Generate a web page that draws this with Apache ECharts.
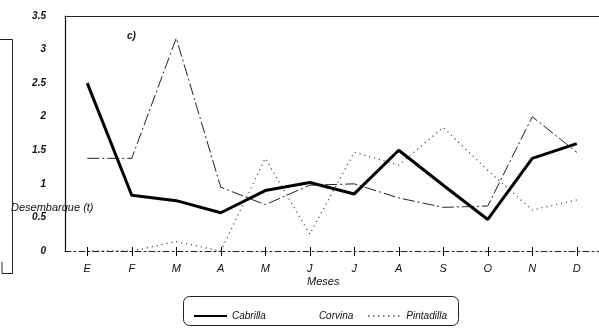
<!DOCTYPE html>
<html>
<head>
<meta charset="utf-8">
<script src="https://cdn.jsdelivr.net/npm/echarts@6/dist/echarts.min.js"></script>
<style>html,body{margin:0;padding:0;background:#fff}#c{width:599px;height:330px}</style>
</head>
<body>
<div id="c"></div>
<script>
var months = ['E','F','M','A','M','J','J','A','S','O','N','D'];
var cabrilla = [2.5, 0.83, 0.75, 0.57, 0.9, 1.02, 0.85, 1.5, 0.98, 0.47, 1.38, 1.6];
var corvina = [1.38, 1.38, 3.17, 0.95, 0.69, 0.98, 1.0, 0.79, 0.65, 0.67, 2.0, 1.47];
var pintadilla = [0, 0, 0.14, 0, 1.38, 0.25, 1.47, 1.28, 1.84, 1.2, 0.61, 0.76];
var yTicks = [0, 0.5, 1, 1.5, 2, 2.5, 3, 3.5];

var monthKeys = months.map(function (m, i) { return 'm' + i; });
function monthLabel(v, i) { return months[i]; }

var FONT = '"Liberation Sans", Arial, sans-serif';
var chart = echarts.init(document.getElementById('c'), null, {renderer:'canvas'});
chart.setOption({
  animation: false,
  backgroundColor: '#fff',
  grid: {left: 65, top: 16, width: 538, height: 235},
  xAxis: [{
    type: 'category', data: monthKeys, boundaryGap: true,
    axisLine: {show: true, onZero: false, lineStyle: {color: '#222', width: 1, type: [6, 3, 2, 3]}},
    axisTick: {show: true, interval: 0, alignWithLabel: true, length: 5, lineStyle: {color: '#000', width: 1}},
    axisLabel: {margin: 12, interval: 0, formatter: monthLabel, fontFamily: FONT, fontStyle: 'italic', fontSize: 11, color: '#111'},
    splitLine: {show: false}
  }, {
    type: 'category', data: monthKeys, position: 'top',
    axisLine: {onZero: false, lineStyle: {color: '#222', width: 1}},
    axisTick: {show: false}, axisLabel: {show: false}
  }, {
    type: 'category', data: monthKeys, position: 'bottom', boundaryGap: true,
    axisLine: {show: false, onZero: false},
    axisTick: {show: true, interval: 0, inside: true, alignWithLabel: true, length: 4, lineStyle: {color: '#000', width: 1}},
    axisLabel: {show: false}
  }],
  yAxis: {
    type: 'value', min: yTicks[0], max: yTicks[yTicks.length - 1], interval: 0.5,
    axisLine: {show: true, lineStyle: {color: '#111', width: 1.2}},
    axisTick: {show: false},
    splitLine: {show: false},
    axisLabel: {margin: 19, fontFamily: FONT, fontStyle: 'italic', fontWeight: 'bold', fontSize: 10, color: '#111',
      formatter: function (v) { return String(v); }}
  },
  legend: {
    left: 188, top: 306, itemWidth: 33, itemHeight: 10, itemGap: 14,
    itemStyle: {opacity: 0},
    textStyle: {fontFamily: FONT, fontStyle: 'italic', fontSize: 10, color: '#111'},
    data: [
      {name: 'Cabrilla'},
      {name: 'Corvina', lineStyle: {opacity: 0}},
      {name: 'Pintadilla'}
    ]
  },
  series: [
    {name: 'Cabrilla', type: 'line', data: cabrilla, symbol: 'none', showSymbol: false, z: 5,
      lineStyle: {color: '#000', width: 3}, itemStyle: {color: '#000'}},
    {name: 'Corvina', type: 'line', data: corvina, symbol: 'none', showSymbol: false, z: 4,
      lineStyle: {color: '#222', width: 1, type: [12, 3, 2, 3]}, itemStyle: {color: '#222'}},
    {name: 'Pintadilla', type: 'line', data: pintadilla, symbol: 'none', showSymbol: false, z: 3,
      lineStyle: {color: '#333', width: 1.3, type: [1, 4]}, itemStyle: {color: '#333'}}
  ],
  graphic: [
    {type: 'text', left: 11, top: 202, style: {text: 'Desembarque (t)', font: 'italic 11px ' + FONT, fill: '#111'}},
    {type: 'text', left: 127, top: 31, style: {text: 'c)', font: 'italic bold 10px ' + FONT, fill: '#111'}},
    {type: 'text', left: 307, top: 276, style: {text: 'Meses', font: 'italic 11px ' + FONT, fill: '#111'}},
    {type: 'rect', shape: {x: 183.5, y: 296.5, width: 275, height: 29, r: 6},
      style: {fill: 'none', stroke: '#222', lineWidth: 1}},
    {type: 'polyline', shape: {points: [[0, 39.5], [12.5, 39.5], [12.5, 273.5], [2, 273.5], [2, 262]]},
      style: {fill: 'none', stroke: '#222', lineWidth: 1}}
  ]
});
</script>
</body>
</html>
